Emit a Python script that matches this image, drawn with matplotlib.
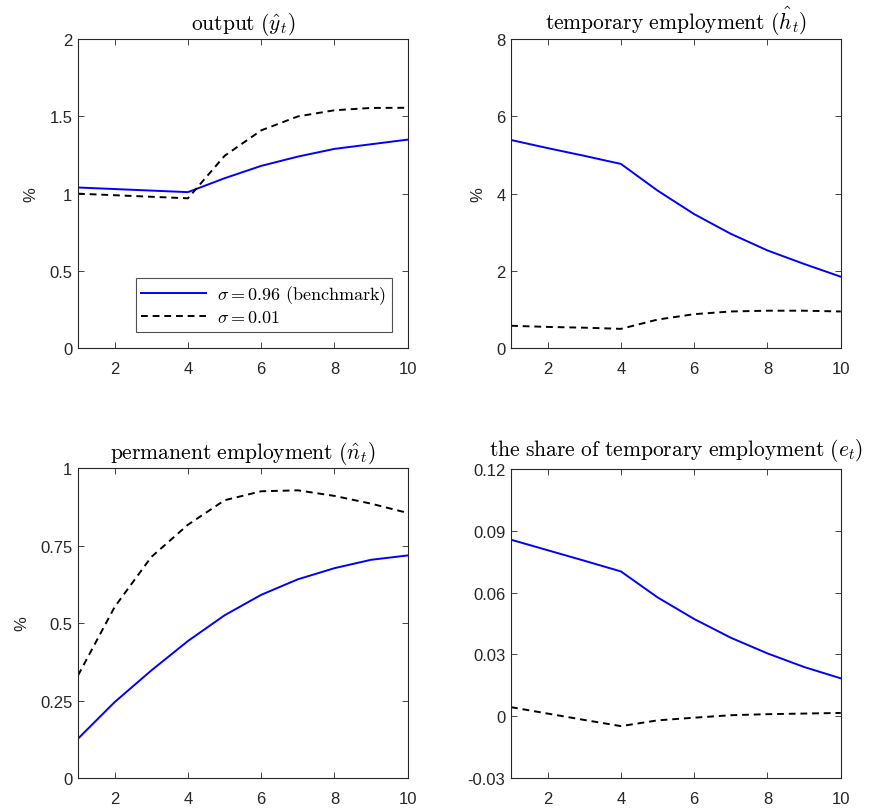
import matplotlib
matplotlib.use('Agg')
import matplotlib.pyplot as plt
from matplotlib.ticker import FixedLocator, FixedFormatter

plt.rcParams['font.family'] = ['Liberation Sans', 'DejaVu Sans']
plt.rcParams['mathtext.fontset'] = 'cm'
plt.rcParams['axes.unicode_minus'] = False

AXCOL = '#262626'

# horizon (quarters)
periods = [1, 2, 3, 4, 5, 6, 7, 8, 9, 10]

# output
y_bench = [1.04, 1.03, 1.02, 1.01, 1.10, 1.18, 1.24, 1.29, 1.32, 1.35]
y_low = [1.00, 0.99, 0.98, 0.97, 1.245, 1.41, 1.50, 1.54, 1.555, 1.556]

# temporary employment
h_bench = [5.39, 5.18, 4.98, 4.77, 4.08, 3.47, 2.96, 2.53, 2.18, 1.85]
h_low = [0.58, 0.55, 0.53, 0.50, 0.74, 0.88, 0.95, 0.97, 0.97, 0.95]

# permanent employment
n_bench = [0.127, 0.245, 0.347, 0.442, 0.525, 0.591, 0.641, 0.677, 0.704, 0.718]
n_low = [0.331, 0.552, 0.713, 0.817, 0.896, 0.925, 0.928, 0.91, 0.885, 0.855]

# share of temporary employment
e_bench = [0.0857, 0.0806, 0.0755, 0.0703, 0.0577, 0.0472, 0.0381, 0.0305, 0.0239, 0.0184]
e_low = [0.0044, 0.0013, -0.0018, -0.0048, -0.0020, -0.0007, 0.0005, 0.0010, 0.0013, 0.0016]

x_ticks = [2, 4, 6, 8, 10]
x_labels = ['2', '4', '6', '8', '10']

panels = [
    (r'$\mathrm{output}\ (\hat{y}_t)$', y_bench, y_low,
     [0, 0.5, 1, 1.5, 2], ['0', '0.5', '1', '1.5', '2'], True),
    (r'$\mathrm{temporary\ employment}\ (\hat{h}_t)$', h_bench, h_low,
     [0, 2, 4, 6, 8], ['0', '2', '4', '6', '8'], True),
    (r'$\mathrm{permanent\ employment}\ (\hat{n}_t)$', n_bench, n_low,
     [0, 0.25, 0.5, 0.75, 1], ['0', '0.25', '0.5', '0.75', '1'], True),
    (r'$\mathrm{the\ share\ of\ temporary\ employment}\ (e_t)$', e_bench, e_low,
     [-0.03, 0, 0.03, 0.06, 0.09, 0.12], ['-0.03', '0', '0.03', '0.06', '0.09', '0.12'], False),
]

positions = [
    [0.0897, 0.570, 0.379, 0.3805],
    [0.5874, 0.570, 0.379, 0.3805],
    [0.0897, 0.0406, 0.379, 0.3818],
    [0.5874, 0.0406, 0.379, 0.3805],
]
title_pads = [7, 7, 7, 10]

fig = plt.figure(figsize=(8.7, 8.12), dpi=100)

for i, (title, bench, low, yt, ylab, show_pct) in enumerate(panels):
    ax = fig.add_axes(positions[i])
    ax.plot(periods, bench, color='#0000ff', linewidth=1.4,
            label=r'$\sigma = 0.96\ \mathrm{(benchmark)}$')
    ax.plot(periods, low, color='black', linewidth=1.4, linestyle=(0, (3.5, 2.5)),
            label=r'$\sigma = 0.01$')
    ax.set_xlim(1, 10)
    ax.set_ylim(yt[0], yt[-1])
    ax.xaxis.set_major_locator(FixedLocator(x_ticks))
    ax.xaxis.set_major_formatter(FixedFormatter(x_labels))
    ax.yaxis.set_major_locator(FixedLocator(yt))
    ax.yaxis.set_major_formatter(FixedFormatter(ylab))
    ax.tick_params(direction='in', top=True, right=True, length=4, width=0.6,
                   labelsize=12, colors=AXCOL)
    ax.tick_params(axis='x', pad=9)
    ax.tick_params(axis='y', pad=4)
    for sp in ax.spines.values():
        sp.set_color(AXCOL)
        sp.set_linewidth(0.8)
    ax.set_title(title, fontsize=15.5, color='black', pad=title_pads[i])
    if show_pct:
        ax.set_ylabel('%', fontsize=12, color=AXCOL, labelpad=8)
    if i == 0:
        leg = ax.legend(loc='lower right', fontsize=13, frameon=True, fancybox=False,
                        edgecolor=AXCOL, handlelength=3.6, borderaxespad=0.9,
                        labelspacing=0.2, borderpad=0.3, handletextpad=0.6)
        leg.get_frame().set_linewidth(0.8)

fig.savefig('out.png', dpi=100)
